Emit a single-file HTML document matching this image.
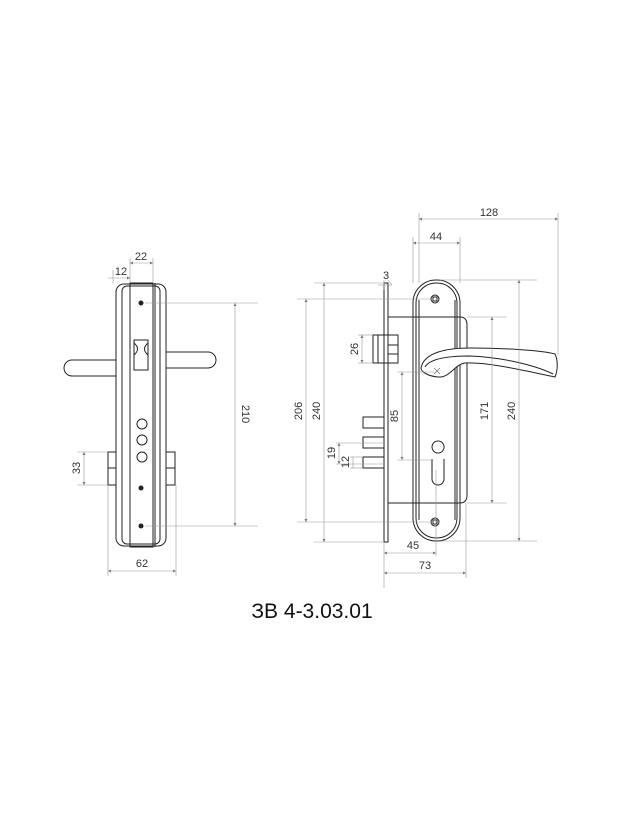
<!DOCTYPE html>
<html><head><meta charset="utf-8"><style>
html,body{margin:0;padding:0;background:#fff;width:624px;height:832px;overflow:hidden}
svg{display:block}
text{font-family:"Liberation Sans","DejaVu Sans",sans-serif;font-size:11px;fill:#333}
</style></head><body>
<svg width="624" height="832" viewBox="0 0 624 832" xmlns="http://www.w3.org/2000/svg">
<defs><marker id="a" viewBox="0 0 6 6" refX="6" refY="3" markerWidth="5" markerHeight="5" orient="auto-start-reverse"><path d="M0,0L6,3L0,6z" fill="#777"/></marker></defs>
<g stroke="#222" stroke-width="1" fill="none">
<!-- LEFT -->
<path d="M116,360 H72 a8,8 0 0 0 0,16 H116"/>
<path d="M166,352 H208 a8,8 0 0 1 0,16 H166"/>
<rect x="108" y="452" width="8" height="33"/><line x1="108" y1="468" x2="116" y2="468"/>
<rect x="166" y="452" width="9" height="33"/><line x1="166" y1="468" x2="175" y2="468"/>
<rect x="116" y="284" width="50" height="262" rx="8"/>
<rect x="122" y="286" width="38" height="258" rx="5"/>
<rect x="130" y="283" width="23" height="264"/>
<line x1="155" y1="283" x2="155" y2="547"/>
<path d="M134,340 h14 v30 h-14 z M134,343 q7,6 0,12 M148,343 q-7,6 0,12"/>
<circle cx="142" cy="424" r="5"/><circle cx="142" cy="440" r="5"/><circle cx="142" cy="457" r="5"/>
<circle cx="141" cy="303" r="2" fill="#222"/><circle cx="141" cy="488" r="2" fill="#222"/><circle cx="141" cy="526" r="2" fill="#222"/>
<!-- RIGHT -->
<rect x="384" y="283" width="4" height="259"/>
<path d="M388,317 H460 q7,0 7,8 V495 q0,8 -7,8 H388"/>
<rect x="373" y="335" width="15" height="28"/><line x1="378" y1="335" x2="378" y2="363"/><line x1="388" y1="345" x2="398" y2="345"/><rect x="388" y="335" width="10" height="28"/><line x1="388" y1="354" x2="398" y2="354"/>
<rect x="363" y="417" width="21" height="11"/><rect x="363" y="437" width="21" height="11"/><rect x="363" y="457" width="21" height="11"/>
<rect x="413" y="280" width="47" height="261" rx="23"/>
<rect x="416" y="283" width="41" height="255" rx="20"/>
<line x1="419" y1="300" x2="419" y2="520"/><line x1="455" y1="300" x2="455" y2="520"/>
<circle cx="435" cy="299" r="4"/><rect x="433" y="297" width="4" height="4"/>
<circle cx="435" cy="522" r="4"/><rect x="433" y="520" width="4" height="4"/>
<path d="M438,453 a6,6 0 1 1 0.1,0 M432,459 v20 a6,6 0 0 0 12,0 v-20" />
<path d="M421,368 C424,352 448,348 470,348 C500,348 540,350 555,354 C558,360 558,370 555,377 C530,372 490,362 465,363 C455,364 450,378 438,377 C428,376 421,372 421,368 Z" fill="#fff"/>
<path d="M425,367 C430,358 450,356 470,356 C500,357 535,365 553,374"/>
</g>
<path d="M434,368 l6,6 M440,368 l-6,6" stroke="#666" stroke-width="0.7"/>
<g stroke="#999" stroke-width="0.6" fill="none">
<!-- left dims -->
<line x1="145" y1="303" x2="258" y2="303"/><line x1="145" y1="526" x2="258" y2="526"/>
<line x1="235" y1="303" x2="235" y2="526" marker-start="url(#a)" marker-end="url(#a)"/>
<line x1="130" y1="258" x2="130" y2="283"/><line x1="153" y1="258" x2="153" y2="283"/><line x1="113" y1="270" x2="113" y2="283"/>
<line x1="130" y1="263" x2="153" y2="263" marker-start="url(#a)" marker-end="url(#a)"/>
<line x1="108" y1="278" x2="130" y2="278" marker-end="url(#a)"/>
<line x1="77" y1="452" x2="108" y2="452"/><line x1="77" y1="485" x2="108" y2="485"/>
<line x1="84" y1="452" x2="84" y2="485" marker-start="url(#a)" marker-end="url(#a)"/>
<line x1="108" y1="485" x2="108" y2="576"/><line x1="176" y1="485" x2="176" y2="576"/>
<line x1="108" y1="571" x2="176" y2="571" marker-start="url(#a)" marker-end="url(#a)"/>
<!-- right dims -->
<line x1="419" y1="213" x2="419" y2="283"/><line x1="558" y1="213" x2="558" y2="355"/>
<line x1="419" y1="219" x2="558" y2="219" marker-start="url(#a)" marker-end="url(#a)"/>
<line x1="413" y1="237" x2="413" y2="283"/><line x1="460" y1="237" x2="460" y2="283"/>
<line x1="413" y1="243" x2="460" y2="243" marker-start="url(#a)" marker-end="url(#a)"/>
<line x1="384" y1="280" x2="384" y2="290"/><line x1="388" y1="280" x2="392" y2="285"/>
<line x1="378" y1="285" x2="392" y2="285"/>
<line x1="314" y1="283" x2="384" y2="283"/><line x1="314" y1="542" x2="384" y2="542"/>
<line x1="324" y1="283" x2="324" y2="542" marker-start="url(#a)" marker-end="url(#a)"/>
<line x1="297" y1="299" x2="431" y2="299"/><line x1="297" y1="522" x2="431" y2="522"/>
<line x1="306" y1="299" x2="306" y2="522" marker-start="url(#a)" marker-end="url(#a)"/>
<line x1="358" y1="335" x2="373" y2="335"/><line x1="358" y1="363" x2="373" y2="363"/>
<line x1="362" y1="335" x2="362" y2="363" marker-start="url(#a)" marker-end="url(#a)"/>
<line x1="397" y1="372" x2="434" y2="372"/><line x1="397" y1="460" x2="432" y2="460"/>
<line x1="402" y1="372" x2="402" y2="460" marker-start="url(#a)" marker-end="url(#a)"/>
<line x1="336" y1="443" x2="384" y2="443"/><line x1="336" y1="464" x2="384" y2="464"/>
<line x1="339" y1="443" x2="339" y2="464" marker-start="url(#a)" marker-end="url(#a)"/>
<line x1="350" y1="457" x2="363" y2="457"/><line x1="350" y1="468" x2="363" y2="468"/>
<line x1="353" y1="457" x2="353" y2="468"/>
<line x1="467" y1="317" x2="507" y2="317"/><line x1="467" y1="503" x2="507" y2="503"/>
<line x1="492" y1="317" x2="492" y2="503" marker-start="url(#a)" marker-end="url(#a)"/>
<line x1="440" y1="280" x2="537" y2="280"/><line x1="440" y1="541" x2="537" y2="541"/>
<line x1="519" y1="280" x2="519" y2="541" marker-start="url(#a)" marker-end="url(#a)"/>
<line x1="384" y1="542" x2="384" y2="588"/><line x1="436" y1="470" x2="436" y2="556"/><line x1="466" y1="503" x2="466" y2="578"/>
<line x1="384" y1="553" x2="436" y2="553" marker-start="url(#a)" marker-end="url(#a)"/>
<line x1="384" y1="573" x2="466" y2="573" marker-start="url(#a)" marker-end="url(#a)"/>
</g>
<text x="141" y="260" text-anchor="middle">22</text>
<text x="121" y="275" text-anchor="middle">12</text>
<text transform="translate(80,468) rotate(-90)" text-anchor="middle">33</text>
<text transform="translate(242,414) rotate(90)" text-anchor="middle">210</text>
<text x="142" y="567" text-anchor="middle">62</text>
<text x="489" y="216" text-anchor="middle">128</text>
<text x="436" y="240" text-anchor="middle">44</text>
<text x="386" y="279" text-anchor="middle">3</text>
<text transform="translate(302,411) rotate(-90)" text-anchor="middle">206</text>
<text transform="translate(320,411) rotate(-90)" text-anchor="middle">240</text>
<text transform="translate(358,349) rotate(-90)" text-anchor="middle">26</text>
<text transform="translate(398,416) rotate(-90)" text-anchor="middle">85</text>
<text transform="translate(335,453) rotate(-90)" text-anchor="middle">19</text>
<text transform="translate(349,462) rotate(-90)" text-anchor="middle">12</text>
<text transform="translate(488,411) rotate(-90)" text-anchor="middle">171</text>
<text transform="translate(515,411) rotate(-90)" text-anchor="middle">240</text>
<text x="413" y="549" text-anchor="middle">45</text>
<text x="425" y="569" text-anchor="middle">73</text>
<text x="312" y="618" text-anchor="middle" style="font-size:21px;fill:#111">ЗВ 4-3.03.01</text>
</svg>
</body></html>
